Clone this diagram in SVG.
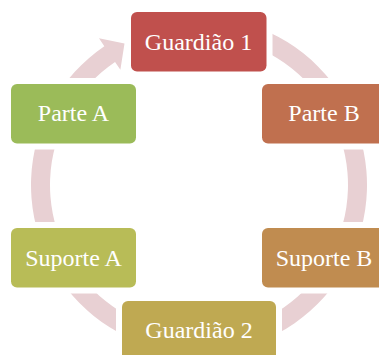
<svg xmlns="http://www.w3.org/2000/svg" width="379" height="355" viewBox="0 0 379 355">
<style>
.box{stroke:#FFFFFF;stroke-width:12;paint-order:stroke;stroke-linejoin:round}
.lbl{font-family:"Liberation Serif","Times New Roman",serif;font-size:24px;fill:#FFFFFF;text-anchor:middle}
.ring{fill:#E8D0D3}
</style>
<rect width="379" height="355" fill="#FFFFFF"/>
<g id="connectors">
<path class="ring" d="M213.64,17.64 A168,168 0 1 1 104.33,46.22 L98.98,38.37 L124.5,43.5 L120.39,69.76 L115.04,61.91 A149,149 0 1 0 211.99,36.57 Z"/>
</g>
<g id="node-guardiao1">
<rect class="box" x="131" y="12" width="135.5" height="59.5" rx="6" fill="#C0504D"/>
<text class="lbl" x="198.5" y="50">Guardião 1</text>
</g>
<g id="node-parteB">
<rect class="box" x="262" y="84" width="125" height="59.5" rx="6" fill="#C0704F"/>
<text class="lbl" x="324" y="121">Parte B</text>
</g>
<g id="node-suporteB">
<rect class="box" x="262" y="228" width="125" height="59.5" rx="6" fill="#C08C50"/>
<text class="lbl" x="324" y="266">Suporte B</text>
</g>
<g id="node-guardiao2">
<rect class="box" x="122" y="301" width="154" height="59.5" rx="6" fill="#BFA952"/>
<text class="lbl" x="199" y="338">Guardião 2</text>
</g>
<g id="node-suporteA">
<rect class="box" x="11" y="228" width="125" height="59.5" rx="6" fill="#B8BC57"/>
<text class="lbl" x="73.5" y="266">Suporte A</text>
</g>
<g id="node-parteA">
<rect class="box" x="11" y="84" width="125" height="59.5" rx="6" fill="#9BBB59"/>
<text class="lbl" x="73.5" y="121">Parte A</text>
</g>
</svg>
